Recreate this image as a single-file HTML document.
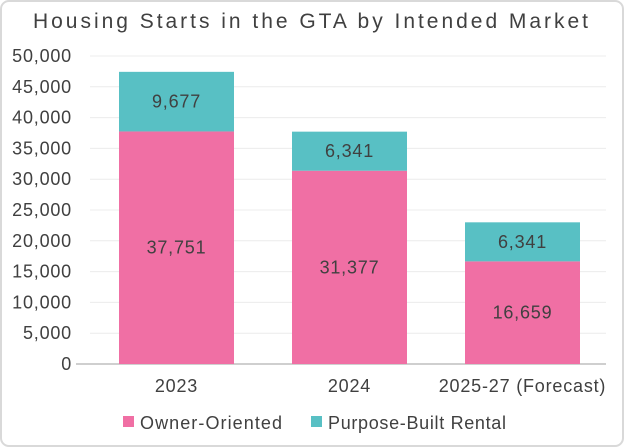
<!DOCTYPE html>
<html><head><meta charset="utf-8"><style>
html,body{margin:0;padding:0;background:#fff;}
svg{display:block;font-family:"Liberation Sans",sans-serif;}
</style></head><body>
<svg id="chart" width="624" height="447" viewBox="0 0 624 447">
<rect x="1" y="1" width="622" height="445" rx="8" fill="#fff" stroke="#d9d9d9" stroke-width="2"/>
<text x="33" y="28" font-size="21" fill="#404040" textLength="555" lengthAdjust="spacing">Housing Starts in the GTA by Intended Market</text>
<g id="grid"></g><g id="bars"></g><g id="labels"></g>
<g>
<rect x="123" y="416" width="11" height="11" fill="#f06fa4"/>
<text x="140" y="429" font-size="18" fill="#404040" textLength="142" lengthAdjust="spacing">Owner-Oriented</text>
<rect x="311" y="416" width="11" height="11" fill="#58c0c4"/>
<text x="328" y="429" font-size="18" fill="#404040" textLength="178" lengthAdjust="spacing">Purpose-Built Rental</text>
</g>
</svg>
<script>
const categories=["2023","2024","2025-27 (Forecast)"];
const ownerValues=[37751,31377,16659];
const rentalValues=[9677,6341,6341];
const yTicks=[0,5000,10000,15000,20000,25000,30000,35000,40000,45000,50000];
const NS="http://www.w3.org/2000/svg";
const y0=364,yTop=56,yMax=50000,plotL=76,plotR=606,barW=115;
function y(v){return y0-(v/yMax)*(y0-yTop);}
function xc(i){return 176.5+i*173;}
function mk(tag,attrs,parent){const e=document.createElementNS(NS,tag);for(const k in attrs)e.setAttribute(k,attrs[k]);parent.appendChild(e);return e;}
const grid=document.getElementById('grid'),bars=document.getElementById('bars'),labels=document.getElementById('labels');
yTicks.forEach(t=>{
  const l=mk('line',{x1:t===0?plotL:90,x2:plotR,y1:y(t),y2:y(t),stroke:t===0?'#bfbfbf':'#ececec','stroke-width':t===0?1.5:1},grid);
  
  
  const tx=mk('text',{x:72,y:y(t)+6,'text-anchor':'end','font-size':18,fill:'#404040','letter-spacing':'0.8'},grid);
  tx.textContent=t.toLocaleString('en-US');
  
  
});
categories.forEach((c,i)=>{
  const o=ownerValues[i],r=rentalValues[i],x=xc(i)-barW/2;
  const b1=mk('rect',{x:x,y:y(o),width:barW,height:y0-y(o),fill:'#f06fa4'},bars);
  
  
  const b2=mk('rect',{x:x,y:y(o+r),width:barW,height:y(o)-y(o+r),fill:'#58c0c4'},bars);
  
  
  const t1=mk('text',{x:xc(i),y:(y(o)+y0)/2+6,'text-anchor':'middle','font-size':18,fill:'#404040','letter-spacing':'0.8'},labels);
  t1.textContent=o.toLocaleString('en-US');
  
  
  const t2=mk('text',{x:xc(i),y:(y(o)+y(o+r))/2+6,'text-anchor':'middle','font-size':18,fill:'#404040','letter-spacing':'0.8'},labels);
  t2.textContent=r.toLocaleString('en-US');
  
  
  const cl=mk('text',{x:xc(i),y:392,'text-anchor':'middle','font-size':18,fill:'#404040','letter-spacing':'0.8'},labels);
  cl.textContent=c;
  
  
});
</script>
</body></html>
